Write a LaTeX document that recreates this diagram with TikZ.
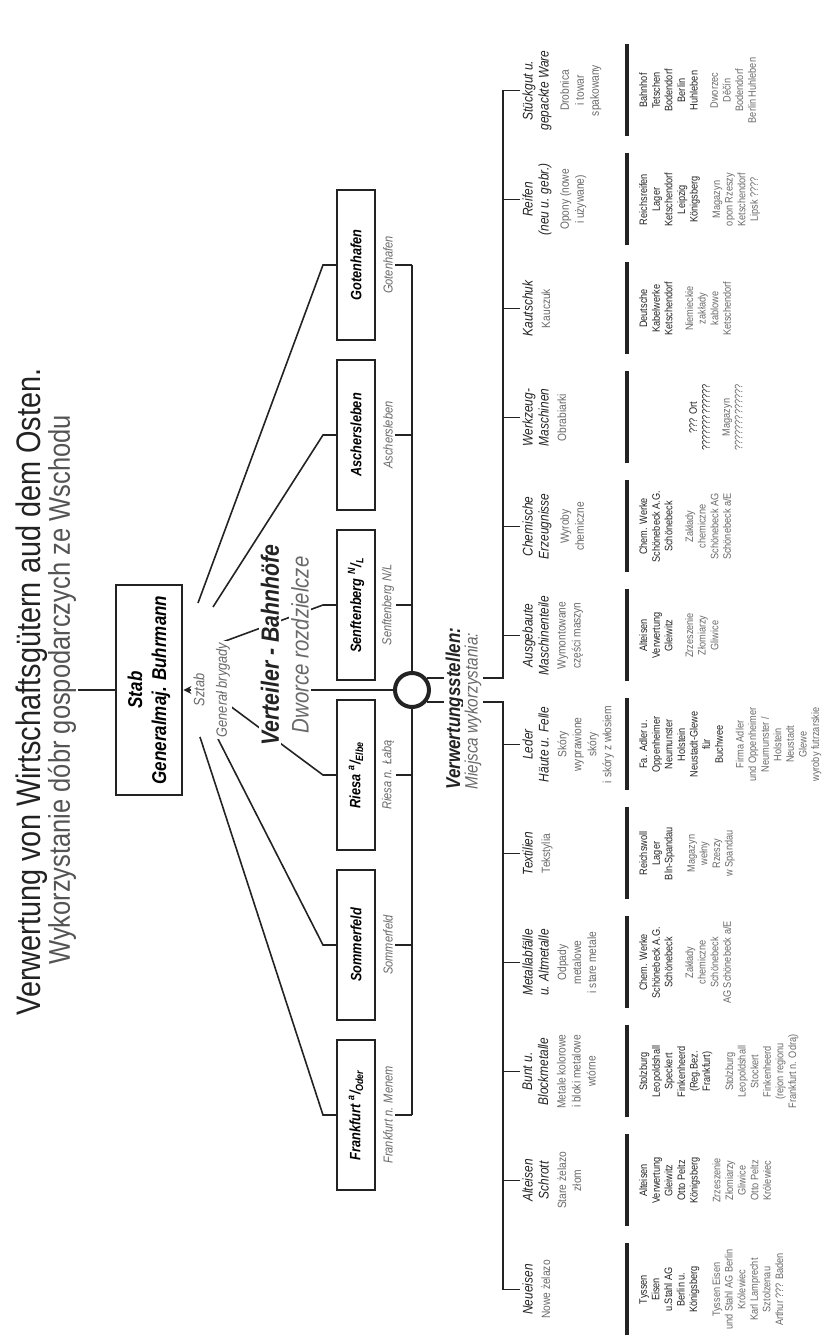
\documentclass[tikz,border=0pt]{standalone}
\usepackage{fontspec}
\setmainfont{Liberation Sans}[FakeStretch=0.85]
\usepackage{xcolor}
\usetikzlibrary{positioning,arrows.meta}
\definecolor{ink}{RGB}{35,35,35}
\definecolor{plgray}{RGB}{105,105,105}

\tikzset{
  conn/.style={line width=0.8pt, ink},
  rulebar/.style={line width=2.2pt, ink},
  titletext/.style={text=ink, font=\fontsize{17}{19}\selectfont},
  subtitle/.style={text=plgray!80!black, font=\fontsize{15}{17}\selectfont},
  stabbox/.style={draw=ink, line width=1.4pt, fill=white, minimum width=105pt, minimum height=33pt,
    align=center, font=\fontsize{10}{12}\selectfont\bfseries\itshape},
  plsmall/.style={fill=white, inner sep=1pt, text=plgray, font=\fontsize{7.5}{9}\selectfont\itshape},
  sectionhead/.style={fill=white, inner sep=1pt, text=ink, font=\fontsize{12.5}{14}\selectfont\bfseries\itshape},
  sectionpl/.style={fill=white, inner sep=1pt, text=plgray, font=\fontsize{12}{14}\selectfont\itshape},
  stationbox/.style={draw=ink, line width=1.2pt, fill=white, minimum width=75pt, minimum height=19pt,
    font=\fontsize{7.5}{9}\selectfont\bfseries\itshape},
  pllabel/.style={inner sep=1pt, text=plgray, font=\fontsize{6.5}{8}\selectfont\itshape},
  cathead/.style={anchor=north, align=center, inner sep=1pt, text=ink, font=\fontsize{7}{8}\selectfont\itshape},
  catpl/.style={align=center, inner sep=1pt, text=plgray, font=\fontsize{6}{7.5}\selectfont},
  loclist/.style={anchor=north, align=center, inner sep=1pt, text=ink, font=\fontsize{5.4}{6.3}\selectfont},
  locpl/.style={align=center, inner sep=1pt, text=plgray, font=\fontsize{5.4}{6.3}\selectfont},
}

\begin{document}
\begin{tikzpicture}[x=0.5pt, y=0.5pt, rotate=90, transform shape]
\useasboundingbox (0,0) rectangle (1341,827);

% title
\node[titletext] (title) at (649,795) {Verwertung von Wirtschaftsgütern aud dem Osten.};
\node[subtitle] (subtitle) at (651,765) {Wykorzystanie dóbr gospodarczych ze Wschodu};

% staff
\coordinate (titlefoot) at (651,749);
\node[stabbox] (stab) at (651,678) {Stab\\Generalmaj. Buhrmann};
\draw[conn] (titlefoot) -- (stab);

% distribution stations
\node[stationbox] (fra) at (226,471) {Frankfurt \textsuperscript{a}/\textsubscript{Oder}};
\node[stationbox] (som) at (396,471) {Sommerfeld};
\node[stationbox] (rie) at (566,471) {Riesa \textsuperscript{a}/\textsubscript{Elbe}};
\node[stationbox] (sen) at (736,471) {Senftenberg \textsuperscript{N}/\textsubscript{L}};
\node[stationbox] (asc) at (906,471) {Aschersleben};
\node[stationbox] (got) at (1076,471) {Gotenhafen};

\node[pllabel] (frapl) at (226,439) {Frankfurt n. Menem};
\node[pllabel] (sompl) at (396,439) {Sommerfeld};
\node[pllabel] (riepl) at (566,439) {Riesa n. Łabą};
\node[pllabel] (senpl) at (736,439) {Senftenberg N/L};
\node[pllabel] (ascpl) at (906,439) {Aschersleben};
\node[pllabel] (gotpl) at (1076,439) {Gotenhafen};

% fan from the staff
\coordinate (kink) at (0,504);
\coordinate (ffra) at (604,627);
\coordinate (fsom) at (608,612);
\coordinate (frie) at (644,609);
\coordinate (fsen) at (698,607);
\coordinate (fasc) at (734,614);
\coordinate (fgot) at (738,629);
\draw[conn] (ffra) -- (fra.north |- kink) -- (fra.north);
\draw[conn] (fsom) -- (som.north |- kink) -- (som.north);
\draw[conn] (frie) -- (rie.north |- kink) -- (rie.north);
\draw[conn] (fsen) -- (sen.north |- kink) -- (sen.north);
\draw[conn] (fasc) -- (asc.north |- kink) -- (asc.north);
\draw[conn] (fgot) -- (got.north |- kink) -- (got.north);

\node[plsmall] (sztab) at (651,628) {Sztab};
\draw[conn, -{Stealth[length=4pt,width=4pt]}] (sztab) -- (stab);
\node[plsmall] (gb) at (651,604) {Generał brygady};

\node[sectionhead] (verteiler) at (696,557) {Verteiler - Bahnhöfe};
\node[sectionpl] (dworce) at (696,527) {Dworce rozdzielcze};

% hub and station bus
\node[circle, draw=ink, line width=2pt, fill=white, minimum size=17pt, inner sep=0pt] (hub) at (651,415) {};
\draw[conn] (frapl.south |- hub) -- (hub.west);
\draw[conn] (hub.east) -- (gotpl.south |- hub);
\draw[conn] (frapl.south) -- (frapl.south |- hub);
\draw[conn] (sompl.south) -- (sompl.south |- hub);
\draw[conn] (riepl.south) -- (riepl.south |- hub);
\draw[conn] (senpl.south) -- (senpl.south |- hub);
\draw[conn] (ascpl.south) -- (ascpl.south |- hub);
\draw[conn] (gotpl.south) -- (gotpl.south |- hub);
\draw[conn] (hub |- dworce.south) -- (hub);

% categories
\node[cathead] (neu) at (51.5,307) {Neueisen};
\node[cathead] (alt) at (160.5,307) {Alteisen\\Schrott};
\node[cathead] (bunt) at (269.5,307) {Bunt u.\\Blockmetalle};
\node[cathead] (metall) at (378.5,307) {Metallabfälle\\u. Altmetalle};
\node[cathead] (textil) at (487.5,307) {Textilien};
\node[cathead] (leder) at (596.5,307) {Leder\\Häute u. Felle};
\node[cathead] (masch) at (705.5,307) {Ausgebaute\\Maschinenteile};
\node[cathead] (chem) at (814.5,307) {Chemische\\Erzeugnisse};
\node[cathead] (werkz) at (923.5,307) {Werkzeug-\\Maschinen};
\node[cathead] (kaut) at (1032.5,307) {Kautschuk};
\node[cathead] (reif) at (1141.5,307) {Reifen\\(neu u. gebr.)};
\node[cathead] (stueck) at (1250.5,307) {Stückgut u.\\gepackte Ware};

\node[catpl, below=2pt of neu] (neupl) {Nowe żelazo};
\node[catpl, below=2pt of alt] (altpl) {Stare żelazo\\złom};
\node[catpl, below=2pt of bunt] (buntpl) {Metale kolorowe\\i bloki metalowe\\wtórne};
\node[catpl, below=2pt of metall] (metallpl) {Odpady\\metalowe\\i stare metale};
\node[catpl, below=2pt of textil] (textilpl) {Tekstylia};
\node[catpl, below=2pt of leder] (lederpl) {Skóry\\wyprawione\\skóry\\i skóry z włosiem};
\node[catpl, below=2pt of masch] (maschpl) {Wymontowane\\części maszyn};
\node[catpl, below=2pt of chem] (chempl) {Wyroby\\chemiczne};
\node[catpl, below=2pt of werkz] (werkzpl) {Obrabiarki};
\node[catpl, below=2pt of kaut] (kautpl) {Kauczuk};
\node[catpl, below=2pt of reif] (reifpl) {Opony (nowe\\i używane)};
\node[catpl, below=2pt of stueck] (stueckpl) {Drobnica\\i towar\\spakowany};

% two feeders from the hub, under the heading
\coordinate (catbus) at (0,324);
\draw[conn] (hub.-130) -- (hub.-130 |- catbus) -- (neu.north |- catbus) -- (neu.north);
\draw[conn] (hub.-50) -- (hub.-50 |- catbus) -- (stueck.north |- catbus) -- (stueck.north);
\draw[conn] (alt.north |- catbus) -- (alt.north);
\draw[conn] (bunt.north |- catbus) -- (bunt.north);
\draw[conn] (metall.north |- catbus) -- (metall.north);
\draw[conn] (textil.north |- catbus) -- (textil.north);
\draw[conn] (leder.north |- catbus) -- (leder.north);
\draw[conn] (masch.north |- catbus) -- (masch.north);
\draw[conn] (chem.north |- catbus) -- (chem.north);
\draw[conn] (werkz.north |- catbus) -- (werkz.north);
\draw[conn] (kaut.north |- catbus) -- (kaut.north);
\draw[conn] (reif.north |- catbus) -- (reif.north);

\node[sectionhead, anchor=west, font=\fontsize{10}{12}\selectfont\bfseries\itshape] (verw) at (549,372) {Verwertungsstellen:};
\node[plsmall, anchor=west, font=\fontsize{9}{11}\selectfont\itshape] (miejsca) at (549,354) {Miejsca wykorzystania:};

% rules over the lists
\draw[rulebar] (5.5,200) -- (97.5,200);
\draw[rulebar] (114.5,200) -- (206.5,200);
\draw[rulebar] (223.5,200) -- (315.5,200);
\draw[rulebar] (332.5,200) -- (424.5,200);
\draw[rulebar] (441.5,200) -- (533.5,200);
\draw[rulebar] (550.5,200) -- (642.5,200);
\draw[rulebar] (659.5,200) -- (751.5,200);
\draw[rulebar] (768.5,200) -- (860.5,200);
\draw[rulebar] (877.5,200) -- (969.5,200);
\draw[rulebar] (986.5,200) -- (1078.5,200);
\draw[rulebar] (1095.5,200) -- (1187.5,200);
\draw[rulebar] (1204.5,200) -- (1296.5,200);

% places of use
\node[loclist] (neuloc) at (51.5,190) {Tyssen\\Eisen\\u.Stahl AG\\Berlin u.\\Königsberg};
\node[loclist] (altloc) at (160.5,190) {Alteisen\\Verwertung\\Gleiwitz\\Otto Peltz\\Königsberg};
\node[loclist] (buntloc) at (269.5,190) {Stolzburg\\Leopoldshall\\Speckert\\Finkenheerd\\(Reg.Bez.\\Frankfurt)};
\node[loclist] (metallloc) at (378.5,190) {Chem. Werke\\Schönebeck A.G.\\Schönebeck};
\node[loclist] (textilloc) at (487.5,190) {Reichswoll\\Lager\\Bln-Spandau};
\node[loclist] (lederloc) at (596.5,190) {Fa. Adler u.\\Oppenheimer\\Neumunster\\Holstein\\Neustadt-Glewe\\für\\Buchwee};
\node[loclist] (maschloc) at (705.5,190) {Alteisen\\Verwertung\\Gleiwitz};
\node[loclist] (chemloc) at (814.5,190) {Chem. Werke\\Schönebeck A.G.\\Schönebeck};
\node[loclist] (werkzloc) at (923.5,140) {??? Ort\\?????????????};
\node[loclist] (kautloc) at (1032.5,190) {Deutsche\\Kabelwerke\\Ketschendorf};
\node[loclist] (reifloc) at (1141.5,190) {Reichsreifen\\Lager\\Ketschendorf\\Leipzig\\Königsberg};
\node[loclist] (stueckloc) at (1250.5,190) {Bahnhof\\Tetschen\\Bodendorf\\Berlin\\Huhleben};

\node[locpl, below=4pt of neuloc] (neulocpl) {Tyssen Eisen\\und Stahl AG Berlin\\Królewiec\\Karl Lamprecht\\Sztolzenau\\Arthur ??? Baden};
\node[locpl, below=4pt of altloc] (altlocpl) {Zrzeszenie\\Złomiarzy\\Gliwice\\Otto Peltz\\Królewiec};
\node[locpl, below=4pt of buntloc] (buntlocpl) {Stolzburg\\Leopoldshall\\Stockert\\Finkenheerd\\(rejon regionu\\Frankfurt n. Odrą)};
\node[locpl, below=4pt of metallloc] (metalllocpl) {Zakłady\\chemiczne\\Schönebeck\\AG Schönebeck a/E};
\node[locpl, below=4pt of textilloc] (textillocpl) {Magazyn\\wełny\\Rzeszy\\w Spandau};
\node[locpl, below=4pt of lederloc] (lederlocpl) {Firma Adler\\und Oppenheimer\\Neumunster /\\Holstein\\Neustadt\\Glewe\\wyroby futrzarskie};
\node[locpl, below=4pt of maschloc] (maschlocpl) {Zrzeszenie\\Złomiarzy\\Gliwice};
\node[locpl, below=4pt of chemloc] (chemlocpl) {Zakłady\\chemiczne\\Schönebeck AG\\Schönebeck a/E};
\node[locpl, below=4pt of werkzloc] (werkzlocpl) {Magazyn\\?????????????};
\node[locpl, below=4pt of kautloc] (kautlocpl) {Niemieckie\\zakłady\\kablowe\\Ketschendorf};
\node[locpl, below=4pt of reifloc] (reiflocpl) {Magazyn\\opon Rzeszy\\Ketschendorf\\Lipsk ????};
\node[locpl, below=4pt of stueckloc] (stuecklocpl) {Dworzec\\Děčín\\Bodendorf\\Berlin Huhleben};
\end{tikzpicture}
\end{document}
